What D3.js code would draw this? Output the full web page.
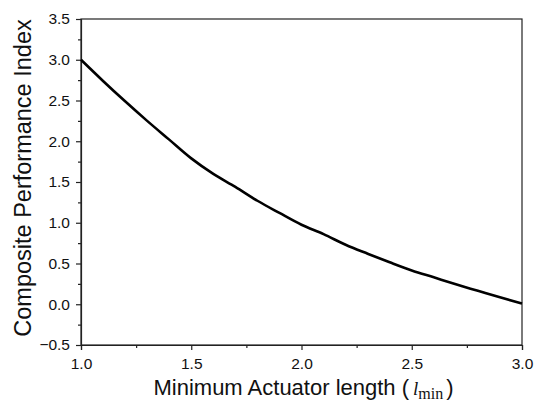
<!DOCTYPE html>
<html>
<head>
<meta charset="utf-8">
<script src="https://cdn.jsdelivr.net/npm/d3@7"></script>
<style>
  body { margin: 0; background: #fff; }
  text { font-family: Arial, "Liberation Sans", sans-serif; fill: #111; }
</style>
</head>
<body>
<div id="chart"></div>
<script>
// actuator length vs composite index
const lengths = [1.0, 1.1, 1.2, 1.3, 1.4, 1.5, 1.6, 1.7, 1.8, 1.9, 2.0,
                 2.1, 2.2, 2.3, 2.4, 2.5, 2.6, 2.7, 2.8, 2.9, 3.0];
const perfIndex = [3.00, 2.74, 2.49, 2.25, 2.02, 1.79, 1.60, 1.44, 1.27, 1.12, 0.975,
                   0.86, 0.73, 0.62, 0.515, 0.415, 0.33, 0.245, 0.165, 0.085, 0.01];
const xTicks = [1.0, 1.5, 2.0, 2.5, 3.0];
const yTicks = [-0.5, 0.0, 0.5, 1.0, 1.5, 2.0, 2.5, 3.0, 3.5];

const width = 543, height = 410;
const margin = {top: 19, right: 21, bottom: 65, left: 81};

const svg = d3.select("#chart").append("svg")
  .attr("width", width)
  .attr("height", height)
  .attr("viewBox", [0, 0, width, height]);

const x = d3.scaleLinear().domain([1, 3]).range([margin.left, width - margin.right]);
const y = d3.scaleLinear().domain([-0.5, 3.5]).range([height - margin.bottom, margin.top]);

// frame
svg.append("rect")
  .attr("x", x(1)).attr("y", y(3.5))
  .attr("width", x(3) - x(1)).attr("height", y(-0.5) - y(3.5))
  .attr("fill", "none").attr("stroke", "#222").attr("stroke-width", 1.2);

// minor ticks
const xMinor = d3.range(1.25, 3, 0.5);
const yMinor = d3.range(-0.25, 3.5, 0.5);

svg.append("g")
  .attr("transform", `translate(0,${y(-0.5)})`)
  .call(d3.axisBottom(x).tickValues(xTicks).tickFormat(d3.format(".1f")).tickSize(5).tickPadding(8));
svg.append("g")
  .attr("transform", `translate(0,${y(-0.5)})`)
  .call(d3.axisBottom(x).tickValues(xMinor).tickFormat("").tickSize(3))
  .call(g => g.select(".domain").remove());

svg.append("g")
  .attr("transform", `translate(${x(1)},0)`)
  .call(d3.axisLeft(y).tickValues(yTicks).tickFormat(d3.format(".1f")).tickSize(5).tickPadding(6));
svg.append("g")
  .attr("transform", `translate(${x(1)},0)`)
  .call(d3.axisLeft(y).tickValues(yMinor).tickFormat("").tickSize(3))
  .call(g => g.select(".domain").remove());

svg.selectAll(".domain").attr("stroke", "#222").attr("stroke-width", 1.2);
svg.selectAll(".tick line").attr("stroke", "#222").attr("stroke-width", 1.2);
svg.selectAll(".tick text")
  .attr("font-size", 15.5)
  .attr("font-family", "Arial, 'Liberation Sans', sans-serif")
  .attr("fill", "#111");

// curve
svg.append("path")
  .datum(lengths.map((d, i) => [d, perfIndex[i]]))
  .attr("fill", "none")
  .attr("stroke", "#000")
  .attr("stroke-width", 2.6)
  .attr("stroke-linejoin", "round")
  .attr("d", d3.line().x(d => x(d[0])).y(d => y(d[1])).curve(d3.curveMonotoneX));

// axis titles
svg.append("text")
  .attr("transform", `translate(31,${(y(3.5) + y(-0.5)) / 2 - 4}) rotate(-90)`)
  .attr("text-anchor", "middle")
  .attr("font-size", 23.5)
  .text("Composite Performance Index");

const xt = svg.append("text")
  .attr("x", (x(1) + x(3)) / 2 + 2)
  .attr("y", 395)
  .attr("text-anchor", "middle")
  .attr("font-size", 22);
xt.append("tspan").text("Minimum Actuator length (");
xt.append("tspan").attr("font-family", "'Liberation Serif', 'DejaVu Serif', serif")
  .attr("font-style", "italic").attr("font-size", 19).attr("dx", 4).text("l");
xt.append("tspan").attr("font-family", "'Liberation Serif', 'DejaVu Serif', serif")
  .attr("font-size", 16).attr("dy", 4).text("min");
xt.append("tspan").attr("dy", -4).attr("dx", 3).text(")");
</script>
</body>
</html>
